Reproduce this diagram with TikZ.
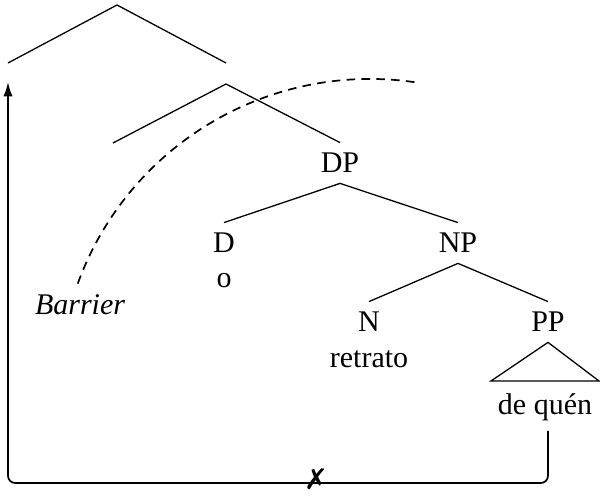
\documentclass[tikz,border=0pt]{standalone}
\usepackage{fontspec}
\setmainfont{Liberation Serif}[Scale=1.05]
\newfontfamily\symbfont{DejaVu Sans}
\usetikzlibrary{arrows.meta}

\begin{document}
\begin{tikzpicture}[x=0.35pt,y=0.35pt,
        every node/.style={inner sep=3.5pt},
        branch/.style={line width=0.45pt},
        movement/.style={line width=0.6pt, rounded corners=2.5pt},
        barrier/.style={line width=0.6pt, dash pattern=on 3pt off 2.2pt}]
    \useasboundingbox (0,0) rectangle (600,496);
    % upper levels, no labels
    \coordinate (s1) at (117,491);
    \coordinate (s1l) at (8,433);
    \coordinate (s1r) at (226,433);
    \coordinate (s2) at (226,412);
    \coordinate (s2l) at (113,353);
    % labelled part
    \node (DP) at (340,333) {DP};
    \node (D) at (224,253) {D};
    \node[anchor=base] (o) at (224,208) {o};
    \node (NP) at (458,253) {NP};
    \node (N) at (369,174) {N};
    \node[anchor=base] (retrato) at (369,128) {retrato};
    \node (PP) at (548,174) {PP};
    \coordinate (tl) at (491,115);
    \coordinate (tr) at (599,115);
    \node[anchor=base] (dequen) at (545,81) {de quén};
    \draw[branch] (s1l) -- (s1) -- (s1r);
    \draw[branch] (s2l) -- (s2) -- (DP.north);
    \draw[branch] (D.north) -- (DP.south) -- (NP.north);
    \draw[branch] (N.north) -- (NP.south) -- (PP.north);
    \draw[branch] (PP.south) -- (tl) -- (tr) -- cycle;
    % barrier
    \draw[barrier] (370,106) ++(160:311) arc[start angle=160, end angle=81, radius=311];
    \node (barrier) at (80,191) {\itshape Barrier};
    % movement
    \coordinate (trace) at (548,65);
    \coordinate (low) at (8,13);
    \coordinate (target) at (8,414);
    \draw[movement, -{Latex[length=5pt,width=3.2pt]}] (trace) -- (trace |- low) -- (low) -- (target);
    \node[inner sep=0pt] (ban) at (316,17) {\symbfont\fontsize{10}{10}\selectfont ✗};
\end{tikzpicture}
\end{document}
